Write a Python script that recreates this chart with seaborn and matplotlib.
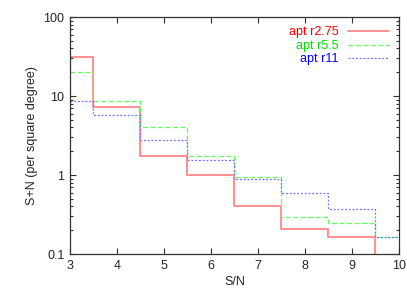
import numpy as np
import pandas as pd
import matplotlib
matplotlib.use('Agg')
import matplotlib.pyplot as plt
import seaborn as sns

# --- data (bin centres at integer S/N) ---
sn = [3, 4, 5, 6, 7, 8, 9, 10]
r275 = [31.0, 7.2, 1.76, 0.99, 0.41, 0.206, 0.165, 0.0]
r55 = [20.0, 8.7, 4.0, 1.76, 0.95, 0.29, 0.245, 0.165]
r11 = [8.7, 5.7, 2.77, 1.55, 0.90, 0.586, 0.372, 0.165]
labels = ['apt r2.75', 'apt r5.5', 'apt r11']

sns.set_style('ticks')
plt.rcParams['font.family'] = ['Liberation Sans', 'DejaVu Sans']

fig = plt.figure(figsize=(4.07, 2.94), dpi=100)
ax = fig.add_axes([0.172, 0.136, 0.808, 0.806])

# (values, line colour, label colour, dash style, width)
series = [
    (r275, '#ff9090', '#ff0000', '-', 1.4),
    (r55, '#60ff60', '#00e000', (0, (4, 2)), 0.9),
    (r11, '#7070ff', '#0000ff', (0, (1.5, 1.5)), 0.9),
]

for (vals, lc, tc, ls, lw), lab in zip(series, labels):
    df = pd.DataFrame({'sn': sn, 'val': vals})
    sns.lineplot(data=df, x='sn', y='val', ax=ax, color=lc, linestyle=ls,
                 linewidth=lw, drawstyle='steps-mid', label=lab)

ax.set_yscale('log', nonpositive='clip')
ax.set_xlim(3, 10)
ax.set_ylim(0.1, 100)
ax.set_xticks(range(3, 11))
ax.set_yticks([0.1, 1, 10, 100])
ax.set_yticklabels(['0.1', '1', '10', '100'])
ax.tick_params(which='both', direction='in', top=True, right=True,
               labelsize=9, pad=4, width=0.8, color='#333333')
ax.tick_params(which='major', length=4)
ax.tick_params(which='minor', length=2)
for sp in ax.spines.values():
    sp.set_linewidth(0.9)
    sp.set_color('#333333')

ax.set_xlabel('S/N', fontsize=9, labelpad=3)
ax.set_ylabel('S+N (per square degree)', fontsize=9, labelpad=4)

leg = ax.legend(loc='upper right', frameon=False, markerfirst=False,
                fontsize=9, handlelength=3.3, labelspacing=0.12,
                borderaxespad=0.35, handletextpad=0.8)
for txt, s in zip(leg.get_texts(), series):
    txt.set_color(s[2])

fig.savefig('out.png', dpi=100)
